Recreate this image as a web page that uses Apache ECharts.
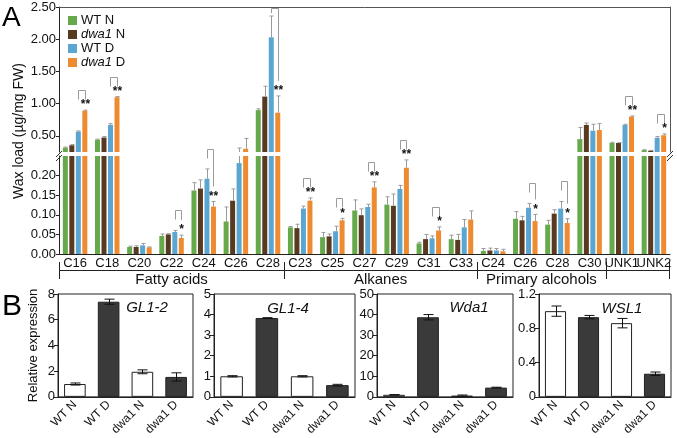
<!DOCTYPE html>
<html><head><meta charset="utf-8">
<script src="https://cdn.jsdelivr.net/npm/echarts@6/dist/echarts.min.js"></script>
<style>html,body{margin:0;padding:0;background:#fff}#c{width:677px;height:438px}</style>
</head><body><div id="c"></div>
<script>
// ---------- DATA ----------
const categories = ['C16','C18','C20','C22','C24','C26','C28','C23','C25','C27','C29','C31','C33','C24','C26','C28','C30','UNK1','UNK2'];
const groupNames = ['Fatty acids','Alkanes','Primary alcohols',''];
const groupStarts = [0,7,13,17];
const seriesNames = ['WT N','dwa1 N','WT D','dwa1 D'];
const wtN    = [0.317,0.44,0.018,0.046,0.162,0.083,0.90, 0.068,0.043,0.111,0.126,0.027,0.038, 0.008,0.090,0.075,0.45,0.39,0.28];
const dwa1N  = [0.355,0.475,0.018,0.050,0.167,0.136,1.11, 0.066,0.045,0.099,0.123,0.038,0.036, 0.009,0.086,0.103,0.67,0.39,0.27];
const wtD    = [0.567,0.67,0.022,0.056,0.192,0.232,2.03, 0.116,0.058,0.120,0.166,0.040,0.068, 0.009,0.118,0.116,0.58,0.67,0.47];
const dwa1D  = [0.89,1.10,0.017,0.041,0.121,0.30,0.86, 0.136,0.086,0.170,0.220,0.060,0.088, 0.007,0.084,0.079,0.59,0.80,0.51];
const wtNErr   = [0.01,0.01,0.002,0.005,0.02,0.037,0.02, 0.002,0.012,0.027,0.02,0.003,0.01, 0.006,0.018,0.011,0.18,0.01,0.005];
const dwa1NErr = [0.01,0.015,0.003,0.002,0.022,0.03,0.16, 0.01,0.006,0.016,0.03,0.012,0.014, 0.006,0.01,0.01,0.03,0.005,0.005];
const wtDErr   = [0.01,0.02,0.005,0.004,0.025,0.08,0.33, 0.006,0.013,0.007,0.009,0.006,0.02, 0.005,0.011,0.018,0.1,0.01,0.02];
const dwa1DErr = [0.01,0.01,0.001,0.007,0.013,0.16,0.26, 0.007,0.005,0.014,0.02,0.009,0.022, 0.005,0.017,0.011,0.1,0.01,0.02];
const stars = ['**','**','','*','**','','**', '**','*','**','**','*','', '','*','*','','**','*'];
const yTicksUpper = [0.5,1,1.5,2,2.5];
const yTicksLower = [0,0.05,0.1,0.15,0.2];

const exprCats = ['WT N','WT D','dwa1 N','dwa1 D'];
const geneNames = ['GL1-2','GL1-4','Wda1','WSL1'];
const gl12 = [1.0,7.4,1.95,1.55];   const gl12Err = [0.08,0.2,0.15,0.32];
const gl14 = [1.0,3.83,1.0,0.57];   const gl14Err = [0.03,0.02,0.03,0.04];
const wda1 = [1.0,38.7,0.6,4.5];    const wda1Err = [0.1,1.3,0.3,0.2];
const wsl1 = [1.0,0.93,0.86,0.27];  const wsl1Err = [0.06,0.02,0.055,0.02];
const exprMax = [8,5,50,1.2];
const exprStep = [2,1,10,0.4];

// ---------- STYLE / LAYOUT ----------
const FONT = '"Liberation Sans", Arial, Helvetica, sans-serif';
const colors = ['#66a94d','#583a20','#5ba6d0','#ee8a30'];
const A_LEFT = 59, A_W = 611, UP_TOP = 7, UP_H = 145, LO_TOP = 156, LO_H = 98;
const BAR_W = 5, BAR_GAP = '30%';
const B_GRIDS = [[58,135],[214,141],[377,136],[539,132]];
const B_TOP = 294, B_H = 103;
const AXIS = '#222';

const vals = [wtN, dwa1N, wtD, dwa1D];
const errs = [wtNErr, dwa1NErr, wtDErr, dwa1DErr];
const exprVals = [gl12, gl14, wda1, wsl1];
const exprErrs = [gl12Err, gl14Err, wda1Err, wsl1Err];

const errData = categories.map((c, i) => {
  const row = [i];
  for (let s = 0; s < 4; s++) { row.push(vals[s][i], errs[s][i]); }
  return row;
});

function renderErrA(params, api) {
  const idx = api.value(0);
  const layout = api.barLayout({ barWidth: BAR_W, barGap: BAR_GAP, count: 4 });
  const children = [];
  for (let s = 0; s < 4; s++) {
    const v = api.value(1 + 2 * s), e = api.value(2 + 2 * s);
    const p0 = api.coord([idx, v]);
    const p1 = api.coord([idx, v + e]);
    const x = Math.round(p0[0] + layout[s].offsetCenter) + 0.5;
    children.push({ type: 'line', shape: { x1: x, y1: p0[1], x2: x, y2: p1[1] }, style: { stroke: '#9a9a9a', lineWidth: 1 } });
    children.push({ type: 'line', shape: { x1: x - 2, y1: p1[1], x2: x + 2, y2: p1[1] }, style: { stroke: '#9a9a9a', lineWidth: 1 } });
  }
  return { type: 'group', children };
}
function renderErrB(params, api) {
  const idx = api.value(0), v = api.value(1), e = api.value(2);
  const pLo = api.coord([idx, v - e]);
  const pHi = api.coord([idx, v + e]);
  const x = Math.round(pLo[0]) + 0.5;
  const st = { stroke: '#111', lineWidth: 1 };
  return { type: 'group', children: [
    { type: 'line', shape: { x1: x, y1: pLo[1], x2: x, y2: pHi[1] }, style: st },
    { type: 'line', shape: { x1: x - 5, y1: pLo[1], x2: x + 5, y2: pLo[1] }, style: st },
    { type: 'line', shape: { x1: x - 5, y1: pHi[1], x2: x + 5, y2: pHi[1] }, style: st }
  ]};
}

const grid = [
  { left: A_LEFT, top: UP_TOP, width: A_W, height: UP_H },
  { left: A_LEFT, top: LO_TOP, width: A_W, height: LO_H }
];
B_GRIDS.forEach(g => grid.push({ left: g[0], top: B_TOP, width: g[1], height: B_H, show: true, borderColor: AXIS, borderWidth: 1, backgroundColor: 'transparent' }));

const xAxis = [
  { gridIndex: 0, type: 'category', data: categories, position: 'top', axisLine: { lineStyle: { color: '#555' } }, axisTick: { show: false }, axisLabel: { show: false } },
  { gridIndex: 1, type: 'category', data: categories, axisLine: { lineStyle: { color: AXIS } }, axisTick: { length: 4, lineStyle: { color: AXIS } }, axisLabel: { interval: 0, fontSize: 13, color: '#111', margin: 3 } }
];
B_GRIDS.forEach((g, k) => xAxis.push({ gridIndex: 2 + k, type: 'category', data: exprCats, axisLine: { lineStyle: { color: AXIS } }, axisTick: { inside: true, length: 4, lineStyle: { color: AXIS } }, axisLabel: { interval: 0, rotate: 45, fontSize: 12, color: '#111', margin: 6 } }));

const yAxis = [
  { gridIndex: 0, type: 'value', min: 0.25, max: 2.5, axisLine: { show: true, lineStyle: { color: AXIS } }, axisTick: { show: true, length: 3, customValues: yTicksUpper, lineStyle: { color: AXIS } }, axisLabel: { customValues: yTicksUpper, formatter: v => v.toFixed(2), fontSize: 13, color: '#111', margin: 3 }, splitLine: { show: false } },
  { gridIndex: 0, type: 'value', position: 'right', min: 0.25, max: 2.5, axisLine: { show: true, lineStyle: { color: '#555' } }, axisTick: { show: false }, axisLabel: { show: false }, splitLine: { show: false } },
  { gridIndex: 1, type: 'value', min: 0, max: 0.25, axisLine: { show: true, lineStyle: { color: AXIS } }, axisTick: { show: true, length: 3, customValues: yTicksLower, lineStyle: { color: AXIS } }, axisLabel: { customValues: yTicksLower, formatter: v => v.toFixed(2), fontSize: 13, color: '#111', margin: 3 }, splitLine: { show: false } }
];
B_GRIDS.forEach((g, k) => yAxis.push({
  gridIndex: 2 + k, type: 'value', min: 0, max: exprMax[k], interval: exprStep[k],
  name: k === 0 ? 'Relative expression' : '', nameLocation: 'middle', nameGap: 18, nameTextStyle: { fontSize: 13, color: '#111' },
  axisLine: { show: true, lineStyle: { color: AXIS } }, axisTick: { show: true, length: 4, lineStyle: { color: AXIS } },
  axisLabel: { fontSize: 13, color: '#111', margin: 3 }, splitLine: { show: false }
}));

const series = [];
[[0, 0], [1, 2]].forEach(([xi, yi]) => {
  for (let s = 0; s < 4; s++) {
    series.push({ type: 'bar', name: seriesNames[s], xAxisIndex: xi, yAxisIndex: yi, data: vals[s], barWidth: BAR_W, barGap: BAR_GAP, clip: true, silent: true, itemStyle: { color: colors[s] } });
  }
});
[[0, 0], [1, 2]].forEach(([xi, yi]) => {
  series.push({ type: 'custom', name: 'err', xAxisIndex: xi, yAxisIndex: yi, data: errData, encode: { x: 0, y: 1 }, clip: true, silent: true, renderItem: renderErrA, z: 3 });
});
B_GRIDS.forEach((g, k) => {
  series.push({ type: 'bar', name: 'expr' + k, xAxisIndex: 2 + k, yAxisIndex: 3 + k, data: exprVals[k], barWidth: '64%', silent: true,
    itemStyle: { borderColor: '#222', borderWidth: 1, color: p => (p.dataIndex % 2 === 0 ? '#ffffff' : '#3a3a3a') } });
  series.push({ type: 'custom', name: 'experr' + k, xAxisIndex: 2 + k, yAxisIndex: 3 + k, silent: true, z: 3,
    data: exprCats.map((c, i) => [i, exprVals[k][i], exprErrs[k][i]]), encode: { x: 0, y: 1 }, renderItem: renderErrB });
});

const option = {
  animation: false,
  backgroundColor: '#fff',
  textStyle: { fontFamily: FONT },
  legend: {
    data: seriesNames, orient: 'vertical', left: 63, top: 9, itemWidth: 9, itemHeight: 9, itemGap: 1,
    icon: 'rect', selectedMode: false,
    formatter: n => n.indexOf('dwa1') === 0 ? '{i|dwa1}' + n.slice(4) : n,
    textStyle: { fontSize: 13, color: '#111', lineHeight: 13, padding: [0, 0, 0, -1], rich: { i: { fontStyle: 'italic', fontSize: 13, color: '#111', lineHeight: 13 } } }
  },
  grid, xAxis, yAxis, series
};

const chart = echarts.init(document.getElementById('c'), null, { renderer: 'canvas' });
chart.setOption(option);

// ---------- annotations computed through the library's scales ----------
const model = chart.getModel();
function barCenter(s, i) {
  const lay = model.getSeriesByIndex(4 + s).getData().getItemLayout(i);
  return lay.x + lay.width / 2;
}
function yPix(v) {
  return v > 0.25 ? chart.convertToPixel({ yAxisIndex: 0 }, v) : chart.convertToPixel({ yAxisIndex: 2 }, v);
}
const gfx = [];
const GR = '#9a9a9a';
stars.forEach((st, i) => {
  if (!st) return;
  const xb = Math.round(barCenter(2, i)) + 0.5, xo = Math.round(barCenter(3, i)) + 0.5;
  const tb = yPix(wtD[i] + wtDErr[i]);
  const to = yPix(dwa1D[i] + dwa1DErr[i]);
  const top = Math.round(Math.max(UP_TOP + 1, Math.min(tb, to) - 20)) + 0.5;
  const leftEnd = Math.min(tb - 3, top + 9);
  const rightEnd = Math.max(to - 15, top + 9);
  gfx.push({ type: 'polyline', silent: true, shape: { points: [[xb, leftEnd], [xb, top], [xo, top], [xo, rightEnd]] }, style: { stroke: GR, lineWidth: 1, fill: null } });
  gfx.push({ type: 'text', silent: true, x: xo, y: to - 5, style: { text: st, font: 'bold 12px ' + FONT, fill: '#111', textAlign: 'center', textVerticalAlign: 'middle' } });
});

// category groups below the x axis
const band = A_W / categories.length;
const xEdge = i => chart.convertToPixel({ xAxisIndex: 1 }, i) - band / 2;
const GY = 270;
const firstX = Math.round(xEdge(0)) + 0.5, lastX = Math.round(xEdge(categories.length - 1) + band) - 0.5;
gfx.push({ type: 'line', silent: true, shape: { x1: firstX, y1: GY + 0.5, x2: lastX, y2: GY + 0.5 }, style: { stroke: AXIS, lineWidth: 1 } });
const edges = groupStarts.map(i => xEdge(i)).concat([xEdge(categories.length - 1) + band]);
edges.forEach((x, k) => {
  const xx = k === edges.length - 1 ? lastX : Math.round(x) + 0.5;
  gfx.push({ type: 'line', silent: true, shape: { x1: xx, y1: 262, x2: xx, y2: 279 }, style: { stroke: AXIS, lineWidth: 1 } });
});
groupNames.forEach((g, k) => {
  if (!g) return;
  gfx.push({ type: 'text', silent: true, x: (edges[k] + edges[k + 1]) / 2, y: 280, style: { text: g, font: '15px ' + FONT, fill: '#111', textAlign: 'center', textVerticalAlign: 'middle' } });
});

// axis break marks
[A_LEFT, A_LEFT + A_W].forEach(x => {
  gfx.push({ type: 'rect', silent: true, shape: { x: x - 1, y: UP_TOP + UP_H + 0.5, width: 3, height: LO_TOP - UP_TOP - UP_H - 1 }, style: { fill: '#fff' } });
  gfx.push({ type: 'line', silent: true, shape: { x1: x - 3, y1: 157, x2: x + 3, y2: 151 }, style: { stroke: '#333', lineWidth: 1 } });
  gfx.push({ type: 'line', silent: true, shape: { x1: x - 3, y1: 161, x2: x + 3, y2: 155 }, style: { stroke: '#333', lineWidth: 1 } });
});

// panel letters and titles
gfx.push({ type: 'text', silent: true, x: 2, y: 18, style: { text: 'A', font: '28px ' + FONT, fill: '#000', textVerticalAlign: 'middle' } });
gfx.push({ type: 'text', silent: true, x: 2, y: 307, style: { text: 'B', font: '30px ' + FONT, fill: '#000', textVerticalAlign: 'middle' } });
gfx.push({ type: 'text', silent: true, x: 19, y: 131, rotation: Math.PI / 2, style: { text: 'Wax load (µg/mg FW)', font: '14px ' + FONT, fill: '#111', textAlign: 'center', textVerticalAlign: 'middle' } });
const genePos = [[147, 308], [288, 309], [469, 308], [622, 309]];
geneNames.forEach((g, k) => {
  gfx.push({ type: 'text', silent: true, x: genePos[k][0], y: genePos[k][1], style: { text: g, font: 'italic 15px ' + FONT, fill: '#111', textAlign: 'center', textVerticalAlign: 'middle' } });
});

chart.setOption({ graphic: { elements: gfx } });
</script>
</body></html>
